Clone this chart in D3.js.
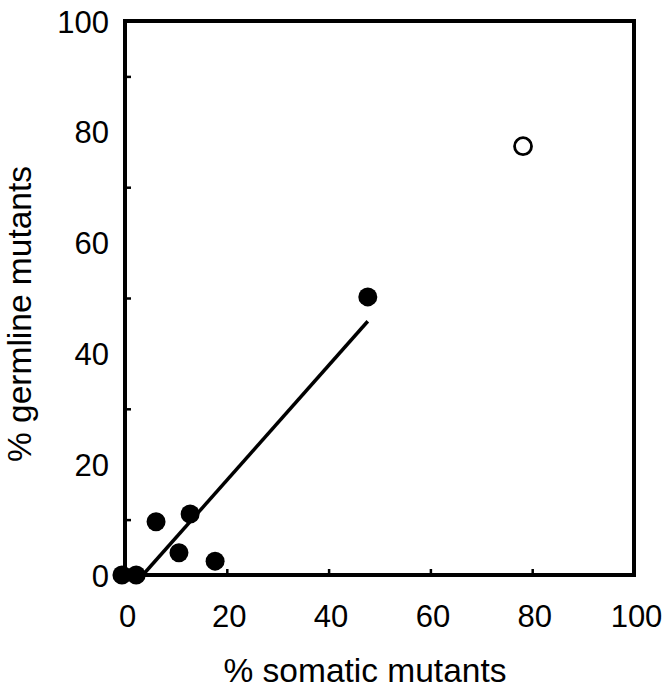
<!DOCTYPE html>
<html>
<head>
    <meta charset="utf-8">
    <title>Germline vs somatic mutants</title>
    <style>
        body { margin: 0; background: #fff; }
        svg { display: block; }
    </style>
</head>
<body>
    <script src="https://cdnjs.cloudflare.com/ajax/libs/d3/7.9.0/d3.min.js"></script>
    <script>

        // filled points: % somatic, % germline
        const somatic  = [-0.6, 2.2, 6.1, 12.8, 10.6, 17.7, 47.7];
        const germline = [0, 0, 9.6, 11.0, 4.0, 2.5, 50.2];

        // the open circle
        const outlierSomatic = [78.2];
        const outlierGermline = [77.4];

        // fitted line end points
        const fitX = [3.5, 47.7];
        const fitY = [0, 45.8];

        const xLabelTicks = [0, 20, 40, 60, 80, 100];
        const yLabelTicks = [0, 20, 40, 60, 80, 100];
        const xMarkTicks = [20, 40, 60, 80];
        const yMarkTicks = [10, 30, 50, 70, 90];

        const width = 672;
        const height = 693;
        const margin = {top: 21, right: 38, bottom: 118, left: 125};

        const svg = d3.select("body")
            .append("svg")
            .attr("width", width)
            .attr("height", height);

        const x = d3.scaleLinear()
            .domain([0, 100])
            .range([margin.left, width - margin.right]);

        const y = d3.scaleLinear()
            .domain([0, 100])
            .range([height - margin.bottom, margin.top]);

        const font = "Liberation Sans, Arial, Helvetica, sans-serif";

        // tick labels (bottom)
        const xAxis = svg.append("g")
            .attr("transform", `translate(0,${y(0)})`)
            .call(d3.axisBottom(x).tickValues(xLabelTicks).tickSize(0).tickPadding(0).tickFormat(d3.format("d")));
        xAxis.select(".domain").remove();
        xAxis.selectAll("text")
            .attr("dy", null)
            .attr("x", 2)
            .attr("y", 52)
            .attr("font-size", "31px")
            .attr("font-family", font)
            .attr("fill", "#000");

        // tick labels (left)
        const yAxis = svg.append("g")
            .attr("transform", `translate(${x(0)},0)`)
            .call(d3.axisLeft(y).tickValues(yLabelTicks).tickSize(0).tickPadding(16).tickFormat(d3.format("d")));
        yAxis.select(".domain").remove();
        yAxis.selectAll("text")
            .attr("dy", "0.36em")
            .attr("font-size", "31px")
            .attr("font-family", font)
            .attr("fill", "#000");

        // small inward tick marks
        const xMarks = svg.append("g")
            .attr("transform", `translate(0,${y(0)})`)
            .call(d3.axisBottom(x).tickValues(xMarkTicks).tickSizeInner(-6).tickSizeOuter(0).tickFormat(""));
        xMarks.select(".domain").remove();
        xMarks.selectAll("line").attr("stroke", "#000").attr("stroke-width", 2.5);

        const yMarks = svg.append("g")
            .attr("transform", `translate(${x(0)},0)`)
            .call(d3.axisLeft(y).tickValues(yMarkTicks).tickSizeInner(-6).tickSizeOuter(0).tickFormat(""));
        yMarks.select(".domain").remove();
        yMarks.selectAll("line").attr("stroke", "#000").attr("stroke-width", 2.5);

        // frame
        svg.append("rect")
            .attr("x", x(0))
            .attr("y", y(100))
            .attr("width", x(100) - x(0))
            .attr("height", y(0) - y(100))
            .attr("fill", "none")
            .attr("stroke", "#000")
            .attr("stroke-width", 4);

        // fitted line
        svg.append("line")
            .attr("x1", x(fitX[0]))
            .attr("y1", y(fitY[0]))
            .attr("x2", x(fitX[1]))
            .attr("y2", y(fitY[1]))
            .attr("stroke", "#000")
            .attr("stroke-width", 3.5);

        // filled points
        svg.selectAll(".dot")
            .data(somatic.map((d, i) => ({s: d, g: germline[i]})))
            .enter()
            .append("circle")
            .attr("class", "dot")
            .attr("cx", d => x(d.s))
            .attr("cy", d => y(d.g))
            .attr("r", 9.5)
            .attr("fill", "#000");

        // open point
        svg.selectAll(".open")
            .data(outlierSomatic.map((d, i) => ({s: d, g: outlierGermline[i]})))
            .enter()
            .append("circle")
            .attr("class", "open")
            .attr("cx", d => x(d.s))
            .attr("cy", d => y(d.g))
            .attr("r", 8.5)
            .attr("fill", "#fff")
            .attr("stroke", "#000")
            .attr("stroke-width", 2.8);

        // axis labels
        svg.append("text")
            .attr("x", 365)
            .attr("y", 682)
            .attr("text-anchor", "middle")
            .attr("font-size", "33.5px")
            .attr("font-family", font)
            .text("% somatic mutants");

        svg.append("text")
            .attr("transform", `translate(31,314) rotate(-90)`)
            .attr("text-anchor", "middle")
            .attr("font-size", "33.5px")
            .attr("font-family", font)
            .text("% germline mutants");

    </script>
</body>
</html>
